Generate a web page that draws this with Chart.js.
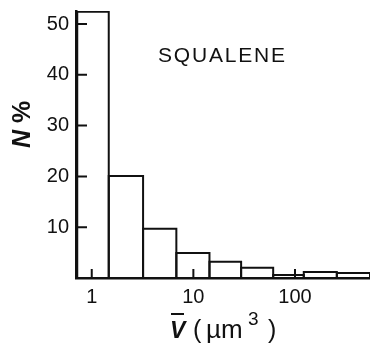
<!DOCTYPE html>
<html>
<head>
<meta charset="utf-8">
<script src="https://cdn.jsdelivr.net/npm/chart.js@4.4.0/dist/chart.umd.min.js"></script>
<style>
  body { margin: 0; background: #fff; }
</style>
</head>
<body>
<canvas id="myChart" width="370" height="345"></canvas>
<script>
// bin edges along the volume axis (um^3)
const binEdges = [0.72, 1.47, 3.2, 6.8, 14.4, 29.5, 61, 122, 258, 547];
// share of particles in each bin, N %
const percents = [52.4, 20.1, 9.7, 4.9, 3.2, 2.0, 0.6, 1.2, 1.0];
const xTicks = [1, 10, 100];
const yTicks = [10, 20, 30, 40, 50];
const sampleName = 'SQUALENE';

// one outline per bar: up the left edge, across the top, down the right edge
let datasets = [];
for (let i = 0; i < percents.length; i++) {
  datasets.push({
    data: [
      {x: binEdges[i], y: 0},
      {x: binEdges[i], y: percents[i]},
      {x: binEdges[i + 1], y: percents[i]},
      {x: binEdges[i + 1], y: 0}
    ],
    showLine: true,
    borderColor: '#111',
    borderWidth: 2,
    pointRadius: 0,
    fill: false
  });
}

const ink = '#111';

// inward tick marks plus the free-floating labels of the figure
const extras = {
  id: 'extras',
  afterDraw(chart) {
    const ctx = chart.ctx;
    const xs = chart.scales.x, ys = chart.scales.y;
    const area = chart.chartArea;
    ctx.save();
    ctx.strokeStyle = ink;
    ctx.lineWidth = 2;
    ctx.beginPath();
    yTicks.forEach(v => {
      const py = ys.getPixelForValue(v);
      ctx.moveTo(area.left, py);
      ctx.lineTo(area.left + 11, py);
    });
    xTicks.forEach(v => {
      const px = xs.getPixelForValue(v);
      ctx.moveTo(px, area.bottom);
      ctx.lineTo(px, area.bottom - 9);
    });
    ctx.stroke();

    ctx.fillStyle = ink;
    ctx.textBaseline = 'alphabetic';

    // sample name inside the plot
    ctx.font = '21px "Liberation Sans"';
    ctx.letterSpacing = '1.8px';
    ctx.fillText(sampleName, 158, 62);
    ctx.letterSpacing = '0px';

    // y title, rotated: italic N then %
    ctx.save();
    ctx.translate(30, 148);
    ctx.rotate(-Math.PI / 2);
    ctx.font = 'italic bold 25px "Liberation Sans"';
    ctx.fillText('N', 0, 0);
    let w = ctx.measureText('N ').width;
    ctx.font = 'bold 25px "Liberation Sans"';
    ctx.fillText('%', w, 0);
    ctx.restore();

    // x title: V with a bar, then (um^3)
    ctx.font = 'italic bold 23px "Liberation Sans"';
    ctx.fillText('V', 170, 338);
    ctx.lineWidth = 2;
    ctx.beginPath();
    ctx.moveTo(171, 314);
    ctx.lineTo(184, 314);
    ctx.stroke();
    ctx.font = '25px "Liberation Sans"';
    ctx.fillText('(', 193, 338);
    ctx.font = '26px "Liberation Sans"';
    ctx.fillText('\u00b5m', 206, 338);
    ctx.font = '19px "Liberation Sans"';
    ctx.fillText('3', 248, 325);
    ctx.font = '25px "Liberation Sans"';
    ctx.fillText(')', 268, 338);
    ctx.restore();
  }
};

const myChart = document.getElementById('myChart').getContext('2d');
const histChart = new Chart(myChart, {
  type: 'scatter',
  data: { datasets: datasets },
  options: {
    responsive: false,
    animation: false,
    devicePixelRatio: 1,
    layout: { padding: { top: 11, left: 0, right: 0, bottom: 0 } },
    plugins: { legend: { display: false }, tooltip: { enabled: false } },
    scales: {
      x: {
        type: 'logarithmic',
        min: binEdges[0],
        max: binEdges[binEdges.length - 1],
        afterBuildTicks: s => { s.ticks = xTicks.map(v => ({value: v})); },
        afterFit: s => { s.height = 67; s.paddingLeft = 0; s.paddingRight = 0; },
        grid: { display: false, drawTicks: false },
        border: { display: true, color: ink, width: 2.5 },
        ticks: {
          color: ink,
          padding: 7,
          maxRotation: 0,
          font: { family: 'Liberation Sans', size: 20 },
          callback: v => String(v)
        }
      },
      y: {
        min: 0,
        max: 52.56,
        afterBuildTicks: s => { s.ticks = yTicks.map(v => ({value: v})); },
        afterFit: s => { s.width = 76; s.paddingTop = 0; s.paddingBottom = 0; },
        grid: { display: false, drawTicks: false },
        border: { display: true, color: ink, width: 2.5 },
        ticks: {
          color: ink,
          padding: 7,
          font: { family: 'Liberation Sans', size: 20 },
          callback: v => String(v)
        }
      }
    }
  },
  plugins: [extras]
});
</script>
</body>
</html>
